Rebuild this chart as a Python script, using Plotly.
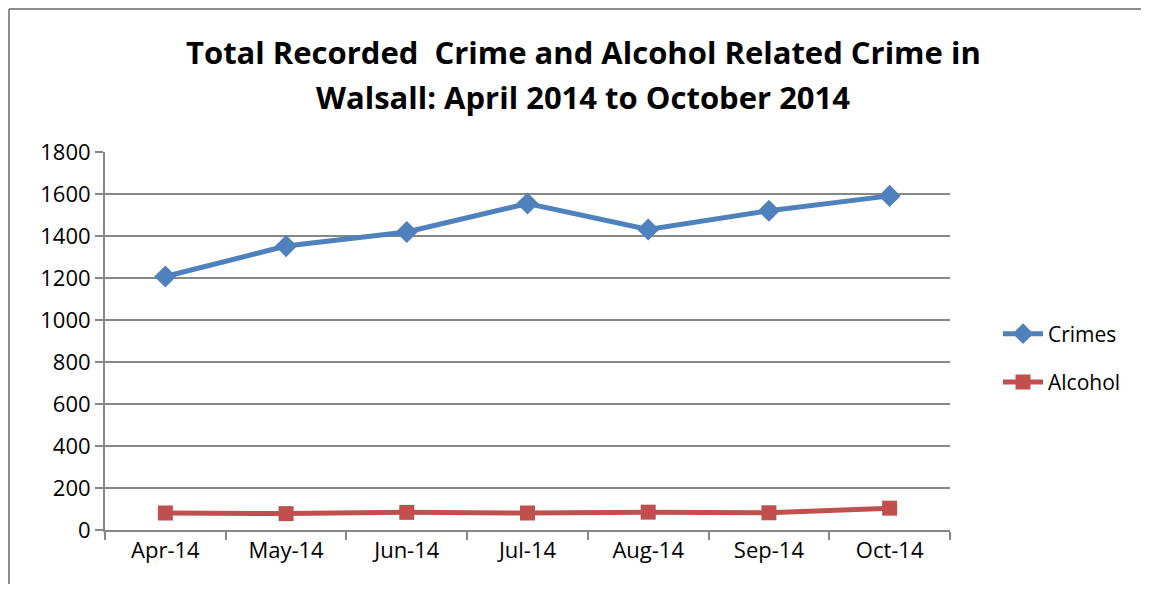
import plotly.graph_objects as go

months = ["Apr-14", "May-14", "Jun-14", "Jul-14", "Aug-14", "Sep-14", "Oct-14"]
crimes = [1207, 1352, 1419, 1555, 1431, 1520, 1591]
alcohol = [81, 78, 84, 81, 85, 82, 104]

title_lines = ["Total Recorded  Crime and Alcohol Related Crime in",
               "Walsall: April 2014 to October 2014"]

BLUE = "#4F81BD"
RED = "#C0504D"
GRID = "#878787"
FONT = "Open Sans"
OFF = 8  # page body margin

fig = go.Figure()
fig.add_trace(go.Scatter(x=months, y=crimes, name="Crimes", mode="lines+markers",
                         legendgroup="a",
                         line=dict(color=BLUE, width=5),
                         marker=dict(symbol="diamond", size=17, color=BLUE)))
fig.add_trace(go.Scatter(x=months, y=alcohol, name="Alcohol", mode="lines+markers",
                         legendgroup="b",
                         line=dict(color=RED, width=5),
                         marker=dict(symbol="square", size=15, color=RED)))

W, H = 1133, 576
L, T = 105 - OFF, 152 - OFF
R = W - (950 - OFF)
B = H - (530 - OFF)
pw = W - L - R
ph = H - T - B

def px_x(px):
    return (px - OFF - L) / pw

def px_y(py):
    return (H - B - (py - OFF)) / ph

fig.update_layout(
    width=W, height=H,
    margin=dict(l=L, r=R, t=T, b=B),
    paper_bgcolor="white", plot_bgcolor="white",
    font=dict(family=FONT, size=19, color="black"),
    showlegend=True,
    legend=dict(x=px_x(998), y=px_y(358), xanchor="left", yanchor="middle",
                font=dict(size=21, family=FONT), tracegroupgap=18,
                bgcolor="rgba(0,0,0,0)", itemwidth=40),
    xaxis=dict(range=[-0.5, 6.5], showgrid=False, showline=True, linecolor=GRID, linewidth=2,
               ticks="outside", tickson="boundaries", ticklen=8, tickcolor=GRID, tickwidth=1.5,
               tickfont=dict(size=22, family=FONT), zeroline=False),
    yaxis=dict(range=[0, 1800], dtick=200, showgrid=True, gridcolor=GRID, gridwidth=2,
               showline=True, linecolor=GRID, linewidth=2, ticks="outside", ticklen=8,
               tickcolor=GRID, tickwidth=1.5, tickfont=dict(size=22, family=FONT),
               zeroline=False),
)

for i, (txt, ypx) in enumerate(zip(title_lines, [52, 97])):
    fig.add_annotation(text="<b>" + txt + "</b>", xref="paper", yref="paper",
                       x=px_x(583), y=px_y(ypx), xanchor="center", yanchor="middle",
                       showarrow=False, font=dict(size=31, family=FONT, color="black"))

# chart-area border (top and left edges visible in the reference)
fig.add_shape(type="line", xref="paper", yref="paper",
              x0=px_x(9), x1=px_x(1149), y0=px_y(9), y1=px_y(9),
              line=dict(color="#8c8c8c", width=2), layer="below")
fig.add_shape(type="line", xref="paper", yref="paper",
              x0=px_x(9), x1=px_x(9), y0=px_y(9), y1=px_y(592),
              line=dict(color="#8c8c8c", width=2), layer="below")

fig.write_html("out.html")
